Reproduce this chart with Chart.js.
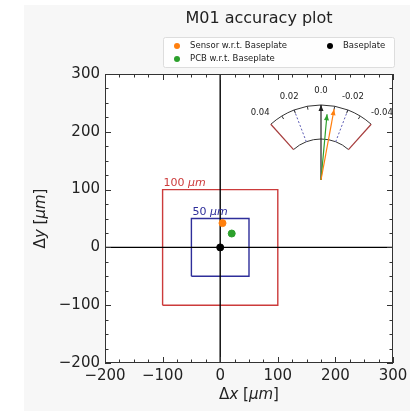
<!DOCTYPE html>
<html>
<head>
<meta charset="utf-8">
<script src="https://cdn.jsdelivr.net/npm/chart.js@4/dist/chart.umd.min.js"></script>
<style>
  html, body { margin: 0; padding: 0; background: #ffffff; }
  #wrap { position: relative; width: 416px; height: 411px; }
  #mainChart { position: absolute; left: 0; top: 0; }
  #gaugeChart { position: absolute; left: 241px; top: 80px; }
</style>
</head>
<body>
<div id="wrap">
  <canvas id="mainChart" width="416" height="411"></canvas>
  <canvas id="gaugeChart" width="160" height="106"></canvas>
</div>
<script>
// Ejes
const xTicks = [-200, -100, 0, 100, 200, 300];
const yTicks = [-200, -100, 0, 100, 200, 300];
const minorStep = 25;

// Tolerancias (cuadrados)
const squareHalf = [100, 50];
const squareNames = ['100', '50'];
const squareColors = ['#cc3b3b', '#2e2e9a'];

// Desplazamientos medidos
const pointLabels = ['Sensor w.r.t. Baseplate', 'PCB w.r.t. Baseplate', 'Baseplate'];
const pointX = [4, 20, 0];
const pointY = [42, 24, 0];
const pointColors = ['#ff7f0e', '#2ca02c', '#000000'];

// Rotaciones (indicador)
const gaugeTicks = [0.04, 0.02, 0.0, -0.02, -0.04];
const gaugeLimit = 0.04;
const gaugeWarn = 0.02;
const arrowRot = [-0.010, -0.005, 0.0];
const arrowLen = [0.96, 0.88, 1.0];
const arrowColors = ['#ff7f0e', '#2ca02c', '#222222'];

const FONT = 'DejaVu Sans';
const minus = v => String(v).replace('-', '\u2212');

// Texto con partes en cursiva (estilo mathtext)
function drawMixed(ctx, parts, x, y, size, align) {
    let total = 0;
    parts.forEach(p => {
        ctx.font = (p[1] ? 'italic ' : '') + size + 'px "' + FONT + '"';
        total += ctx.measureText(p[0]).width;
    });
    let cx = align === 'center' ? x - total / 2 : x;
    ctx.textAlign = 'left';
    parts.forEach(p => {
        ctx.font = (p[1] ? 'italic ' : '') + size + 'px "' + FONT + '"';
        ctx.fillText(p[0], cx, y);
        cx += ctx.measureText(p[0]).width;
    });
}

const squareData = h => [
    { x: -h, y: -h }, { x: h, y: -h }, { x: h, y: h }, { x: -h, y: h }, { x: -h, y: -h }
];

const datasets = [];
pointLabels.forEach((label, i) => {
    datasets.push({
        label: label,
        data: [{ x: pointX[i], y: pointY[i] }],
        backgroundColor: pointColors[i],
        borderColor: pointColors[i],
        pointRadius: 3.5,
        order: 0
    });
});
datasets.push({
    label: 'hline',
    data: [{ x: xTicks[0], y: 0 }, { x: xTicks[xTicks.length - 1], y: 0 }],
    showLine: true, borderColor: '#000', borderWidth: 1.4, pointRadius: 0, order: 1
});
datasets.push({
    label: 'vline',
    data: [{ x: 0, y: yTicks[0] }, { x: 0, y: yTicks[yTicks.length - 1] }],
    showLine: true, borderColor: '#000', borderWidth: 1.4, pointRadius: 0, order: 1
});
squareHalf.forEach((h, i) => {
    datasets.push({
        label: 'square' + squareNames[i],
        data: squareData(h),
        showLine: true, borderColor: squareColors[i], borderWidth: 1.4, pointRadius: 0, order: 2
    });
});

// Fondo, marco, ticks hacia dentro, leyenda y textos
const decoPlugin = {
    id: 'deco',
    beforeDraw(chart) {
        const ctx = chart.ctx, a = chart.chartArea;
        ctx.save();
        ctx.fillStyle = '#f7f7f7';
        ctx.fillRect(24, 5, 386, 406);
        ctx.fillStyle = '#ffffff';
        ctx.fillRect(a.left, a.top, a.right - a.left, a.bottom - a.top);
        ctx.restore();
    },
    afterDatasetsDraw(chart) {
        const ctx = chart.ctx, a = chart.chartArea;
        const xs = chart.scales.x, ys = chart.scales.y;
        ctx.save();
        // etiquetas de los cuadrados
        squareHalf.forEach((h, i) => {
            ctx.fillStyle = squareColors[i];
            ctx.textBaseline = 'bottom';
            drawMixed(ctx, [[squareNames[i] + ' ', false], ['\u03bcm', true]],
                xs.getPixelForValue(-h) + 1, ys.getPixelForValue(h) - 1, 11, 'left');
        });
        // ticks
        ctx.strokeStyle = '#333';
        ctx.lineWidth = 1;
        ctx.beginPath();
        for (let v = xTicks[0]; v <= xTicks[xTicks.length - 1]; v += minorStep) {
            const len = xTicks.includes(v) ? 6 : 3.5;
            const px = Math.round(xs.getPixelForValue(v)) + 0.5;
            ctx.moveTo(px, a.bottom); ctx.lineTo(px, a.bottom - len);
            ctx.moveTo(px, a.top); ctx.lineTo(px, a.top + len);
        }
        for (let v = yTicks[0]; v <= yTicks[yTicks.length - 1]; v += minorStep) {
            const len = yTicks.includes(v) ? 6 : 3.5;
            const py = Math.round(ys.getPixelForValue(v)) + 0.5;
            ctx.moveTo(a.left, py); ctx.lineTo(a.left + len, py);
            ctx.moveTo(a.right, py); ctx.lineTo(a.right - len, py);
        }
        ctx.stroke();
        ctx.strokeRect(a.left + 0.5, a.top + 0.5, a.right - a.left - 1, a.bottom - a.top - 1);

        // título
        ctx.fillStyle = '#222';
        ctx.textAlign = 'center';
        ctx.textBaseline = 'middle';
        ctx.font = '16px "' + FONT + '"';
        ctx.fillText('M01 accuracy plot', 259, 19);

        // títulos de ejes
        ctx.textBaseline = 'middle';
        drawMixed(ctx, [['\u0394', false], ['x', true], [' [', false], ['\u03bcm', true], [']', false]],
            (a.left + a.right) / 2, 395, 15, 'center');
        ctx.save();
        ctx.translate(41, (a.top + a.bottom) / 2);
        ctx.rotate(-Math.PI / 2);
        drawMixed(ctx, [['\u0394', false], ['y', true], [' [', false], ['\u03bcm', true], [']', false]],
            0, 0, 15, 'center');
        ctx.restore();

        // leyenda
        ctx.fillStyle = 'rgba(255,255,255,0.85)';
        ctx.strokeStyle = '#dddddd';
        ctx.beginPath();
        ctx.roundRect(163.5, 37.5, 231, 30, 2);
        ctx.fill();
        ctx.stroke();
        const slots = [[177, 46], [177, 59], [330, 46]];
        chart.data.datasets.slice(0, 3).forEach((ds, i) => {
            const [lx, ly] = slots[i];
            ctx.fillStyle = ds.backgroundColor;
            ctx.beginPath();
            ctx.arc(lx, ly, 3, 0, Math.PI * 2);
            ctx.fill();
            ctx.fillStyle = '#222';
            ctx.font = '8.5px "' + FONT + '"';
            ctx.textAlign = 'left';
            ctx.fillText(ds.label, lx + 13, ly);
        });
        ctx.restore();
    }
};

const mainChart = new Chart(document.getElementById('mainChart'), {
    type: 'scatter',
    data: { datasets: datasets },
    options: {
        responsive: false,
        animation: false,
        layout: { padding: { left: 24, top: 74, right: 23, bottom: 0 } },
        plugins: { legend: { display: false }, tooltip: { enabled: false } },
        scales: {
            x: {
                min: xTicks[0], max: xTicks[xTicks.length - 1],
                afterBuildTicks: s => { s.ticks = xTicks.map(v => ({ value: v })); },
                afterFit: s => { s.height = 48; },
                grid: { display: false, drawTicks: false },
                border: { display: false },
                ticks: {
                    color: '#222', padding: 4, maxRotation: 0,
                    font: { family: FONT, size: 15 },
                    callback: v => minus(v)
                }
            },
            y: {
                min: yTicks[0], max: yTicks[yTicks.length - 1],
                afterBuildTicks: s => { s.ticks = yTicks.map(v => ({ value: v })); },
                afterFit: s => { s.width = 81; },
                grid: { display: false, drawTicks: false },
                border: { display: false },
                ticks: {
                    color: '#222', padding: 5,
                    font: { family: FONT, size: 15 },
                    callback: v => minus(v)
                }
            }
        }
    },
    plugins: [decoPlugin]
});

// Indicador de rotación (unidades en píxeles, centro en 0,0)
const R_OUT = 75, R_IN = 41, SPAN_DEG = 42;
const toRad = v => (v / gaugeLimit) * SPAN_DEG * Math.PI / 180;
const polar = (v, r) => ({ x: -r * Math.sin(toRad(v)), y: r * Math.cos(toRad(v)) });

const gaugeSets = arrowRot.map((rot, i) => ({
    data: [{ x: 0, y: 0 }, polar(rot, arrowLen[i] * R_OUT)],
    showLine: true,
    borderColor: arrowColors[i],
    borderWidth: 1.2,
    pointRadius: 0
}));

const gaugePlugin = {
    id: 'gauge',
    beforeDatasetsDraw(chart) {
        const ctx = chart.ctx, xs = chart.scales.x, ys = chart.scales.y;
        const cx = xs.getPixelForValue(0), cy = ys.getPixelForValue(0);
        const k = xs.getPixelForValue(1) - cx;
        const sp = toRad(gaugeLimit);
        ctx.save();
        ctx.strokeStyle = '#333';
        ctx.lineWidth = 1;
        ctx.beginPath();
        ctx.arc(cx, cy, R_OUT * k, -Math.PI / 2 - sp, -Math.PI / 2 + sp);
        ctx.stroke();
        ctx.beginPath();
        ctx.arc(cx, cy, R_IN * k, -Math.PI / 2 - sp, -Math.PI / 2 + sp);
        ctx.stroke();
        // bordes de límite
        ctx.strokeStyle = '#a63c3c';
        ctx.lineWidth = 1.2;
        [gaugeLimit, -gaugeLimit].forEach(v => {
            const p1 = polar(v, R_IN), p2 = polar(v, R_OUT);
            ctx.beginPath();
            ctx.moveTo(xs.getPixelForValue(p1.x), ys.getPixelForValue(p1.y));
            ctx.lineTo(xs.getPixelForValue(p2.x), ys.getPixelForValue(p2.y));
            ctx.stroke();
        });
        // líneas de aviso
        ctx.strokeStyle = '#5a5ab4';
        ctx.lineWidth = 1;
        ctx.setLineDash([2, 2]);
        [gaugeWarn, -gaugeWarn].forEach(v => {
            const p1 = polar(v, R_IN), p2 = polar(v, R_OUT);
            ctx.beginPath();
            ctx.moveTo(xs.getPixelForValue(p1.x), ys.getPixelForValue(p1.y));
            ctx.lineTo(xs.getPixelForValue(p2.x), ys.getPixelForValue(p2.y));
            ctx.stroke();
        });
        ctx.setLineDash([]);
        // ticks del arco exterior
        ctx.strokeStyle = '#333';
        for (let v = -0.03; v <= 0.031; v += 0.01) {
            const p1 = polar(v, R_OUT - 3.5), p2 = polar(v, R_OUT);
            ctx.beginPath();
            ctx.moveTo(xs.getPixelForValue(p1.x), ys.getPixelForValue(p1.y));
            ctx.lineTo(xs.getPixelForValue(p2.x), ys.getPixelForValue(p2.y));
            ctx.stroke();
        }
        // etiquetas
        ctx.fillStyle = '#222';
        ctx.font = '8.5px "' + FONT + '"';
        ctx.textAlign = 'center';
        ctx.textBaseline = 'middle';
        gaugeTicks.forEach(v => {
            const r = Math.abs(v) >= gaugeLimit ? 91 : 89;
            const p = polar(v, r);
            const txt = v === 0 ? '0.0' : String(v);
            ctx.fillText(txt, xs.getPixelForValue(p.x), ys.getPixelForValue(p.y));
        });
        ctx.restore();
    },
    afterDatasetsDraw(chart) {
        const ctx = chart.ctx, xs = chart.scales.x, ys = chart.scales.y;
        ctx.save();
        chart.data.datasets.forEach(ds => {
            const a = ds.data[0], b = ds.data[1];
            const x0 = xs.getPixelForValue(a.x), y0 = ys.getPixelForValue(a.y);
            const x1 = xs.getPixelForValue(b.x), y1 = ys.getPixelForValue(b.y);
            const ang = Math.atan2(y1 - y0, x1 - x0);
            ctx.fillStyle = ds.borderColor;
            ctx.beginPath();
            ctx.moveTo(x1, y1);
            ctx.lineTo(x1 - 6 * Math.cos(ang) + 2.5 * Math.sin(ang), y1 - 6 * Math.sin(ang) - 2.5 * Math.cos(ang));
            ctx.lineTo(x1 - 6 * Math.cos(ang) - 2.5 * Math.sin(ang), y1 - 6 * Math.sin(ang) + 2.5 * Math.cos(ang));
            ctx.closePath();
            ctx.fill();
        });
        ctx.restore();
    }
};

const gaugeChart = new Chart(document.getElementById('gaugeChart'), {
    type: 'scatter',
    data: { datasets: gaugeSets },
    options: {
        responsive: false,
        animation: false,
        layout: { padding: 0 },
        plugins: { legend: { display: false }, tooltip: { enabled: false } },
        scales: {
            x: { display: false, min: -80, max: 80 },
            y: { display: false, min: -6, max: 100 }
        }
    },
    plugins: [gaugePlugin]
});
</script>
</body>
</html>
